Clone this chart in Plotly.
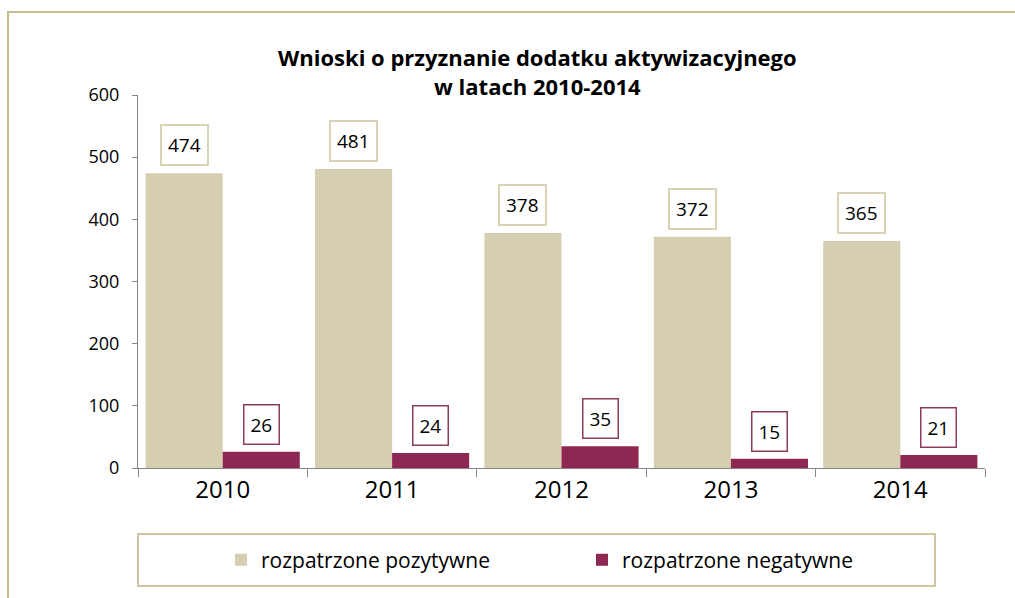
import plotly.graph_objects as go

years = ["2010", "2011", "2012", "2013", "2014"]
positive = [474, 481, 378, 372, 365]
negative = [26, 24, 35, 15, 21]
series_names = ["rozpatrzone pozytywne", "rozpatrzone negatywne"]
title_lines = ["Wnioski o przyznanie dodatku aktywizacyjnego", "w latach 2010-2014"]

W, H = 1015, 598
L, R, T, B = 138, 30, 95, 130
pw, ph = W - L - R, H - T - B

def px_x(p):
    return (p - L) / pw

def px_y(q):
    return (H - B - q) / ph

FONT = "'Open Sans', sans-serif"
POS_COL = "#d5ceb1"
NEG_COL = "#8e2752"
bargap = 0.09
bw = (1 - bargap) / 2

fig = go.Figure()
fig.add_trace(go.Bar(x=years, y=positive, name=series_names[0],
                     marker=dict(color=POS_COL, line=dict(width=0))))
fig.add_trace(go.Bar(x=years, y=negative, name=series_names[1],
                     marker=dict(color=NEG_COL, line=dict(width=0))))

annotations = []
for i, (p, n) in enumerate(zip(positive, negative)):
    annotations.append(dict(x=i - bw / 2, y=p, xref="x", yref="y", text=str(p),
                            showarrow=False, yanchor="bottom", yshift=7,
                            font=dict(family=FONT, size=19, color="#000"),
                            bgcolor="white", bordercolor="#d9d3b8", borderwidth=2,
                            borderpad=6))
    annotations.append(dict(x=i + bw / 2, y=n, xref="x", yref="y", text=str(n),
                            showarrow=False, yanchor="bottom", yshift=7,
                            font=dict(family=FONT, size=19, color="#000"),
                            bgcolor="white", bordercolor="#8e3a60", borderwidth=1.5,
                            borderpad=6))

annotations.append(dict(x=px_x(537), y=px_y(72), xref="paper", yref="paper",
                        text="<b>" + title_lines[0] + "</b><br><b>" + title_lines[1] + "</b>",
                        showarrow=False, xanchor="center", yanchor="middle",
                        font=dict(family=FONT, size=22, color="#000")))

shapes = [
    dict(type="rect", xref="paper", yref="paper",
         x0=px_x(8), x1=px_x(1030), y0=px_y(620), y1=px_y(12),
         line=dict(color="#c8bb8c", width=2), layer="below"),
    dict(type="rect", xref="paper", yref="paper",
         x0=px_x(138), x1=px_x(935), y0=px_y(586), y1=px_y(534),
         line=dict(color="#cfc6a0", width=2), layer="below"),
]

fig.update_layout(
    width=W, height=H,
    margin=dict(l=L, r=R, t=T, b=B),
    paper_bgcolor="white", plot_bgcolor="white",
    barmode="group", bargap=bargap, bargroupgap=0,
    showlegend=True,
    legend=dict(orientation="h", x=px_x(221), y=px_y(560), xanchor="left", yanchor="middle",
                font=dict(family=FONT, size=21, color="#000"),
                entrywidth=316, entrywidthmode="pixels",
                bgcolor="rgba(0,0,0,0)", borderwidth=0, itemclick=False),
    annotations=annotations,
    shapes=shapes,
    xaxis=dict(type="category", showline=True, linecolor="#868686", linewidth=1,
               ticks="outside", tickson="boundaries", ticklen=8, tickcolor="#868686",
               tickfont=dict(family=FONT, size=24, color="#000"), showgrid=False,
               zeroline=False),
    yaxis=dict(range=[0, 600], dtick=100, showline=True, linecolor="#868686", linewidth=1,
               ticks="outside", ticklen=5, tickcolor="#868686", ticklabelstandoff=9,
               tickfont=dict(family=FONT, size=18, color="#000"), showgrid=False,
               zeroline=False),
)

fig.write_html("out.html", config={"displayModeBar": False},
               post_script="document.body.style.margin='0';")
